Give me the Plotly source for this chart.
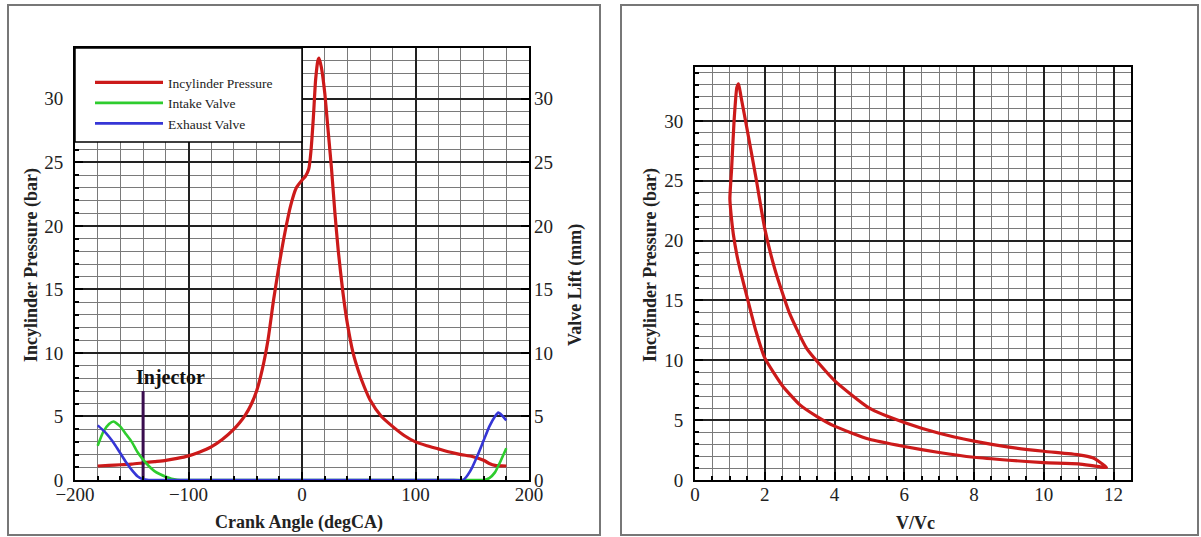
import plotly.graph_objects as go

# ---------------- data ----------------
crank_angle = [-180, -170, -160, -150, -140, -130, -120, -110, -100, -90, -80, -70, -60, -55,
               -50, -45, -40, -35, -30, -25, -20, -15, -10, -5, 0, 3, 6, 8, 10, 12, 14, 15,
               17, 20, 23, 26, 29, 32, 36, 40, 45, 50, 55, 60, 70, 80, 90, 100, 110, 120,
               130, 140, 150, 160, 165, 170, 180]
pressure = [1.1, 1.15, 1.2, 1.25, 1.35, 1.45, 1.55, 1.7, 1.9, 2.2, 2.6, 3.2, 4.0, 4.5,
            5.1, 5.9, 7.0, 8.7, 11.0, 14.2, 17.0, 19.5, 21.6, 23.0, 23.6, 23.9, 24.5, 26.0,
            28.5, 31.5, 33.0, 33.2, 32.5, 30.5, 27.5, 24.5, 21.0, 18.0, 14.8, 12.3, 10.0,
            8.5, 7.3, 6.3, 5.0, 4.2, 3.5, 3.0, 2.7, 2.45, 2.2, 2.0, 1.85, 1.55, 1.3, 1.15, 1.1]

intake_angle = [-180, -175, -170, -166, -160, -155, -150, -145, -140, -135, -130, -125,
                -120, -115, -110, -100, 0, 150, 160, 165, 170, 175, 180]
intake_lift = [2.7, 3.8, 4.4, 4.6, 4.2, 3.6, 3.0, 2.2, 1.6, 1.1, 0.7, 0.45,
               0.25, 0.1, 0.02, 0.0, 0.0, 0.0, 0.0, 0.15, 0.6, 1.5, 2.5]

exhaust_angle = [-180, -175, -170, -165, -160, -155, -150, -145, -140, -135, -120, 0,
                 130, 142, 146, 150, 155, 160, 165, 170, 173, 176, 180]
exhaust_lift = [4.3, 3.9, 3.4, 2.8, 2.1, 1.4, 0.8, 0.3, 0.05, 0.0, 0.0, 0.0,
                0.0, 0.0, 0.4, 1.0, 2.0, 3.1, 4.2, 5.0, 5.3, 5.1, 4.7]

injector_angle = [-140, -140]
injector_level = [0, 7]

# P-V loop: compression branch (BDC -> TDC) then combustion/expansion (TDC -> BDC)
vol_ratio = [11.8, 11.0, 10.0, 9.0, 8.0, 7.0, 6.0, 5.0, 4.0, 3.5, 3.0, 2.5, 2.0, 1.75,
             1.5, 1.3, 1.2, 1.1, 1.04, 1.0,
             1.05, 1.12, 1.2, 1.25, 1.32, 1.5, 1.75, 2.0, 2.3, 2.7, 3.2, 4.0, 5.0, 6.0,
             7.0, 8.0, 9.0, 10.0, 11.0, 11.4, 11.6, 11.8]
pv_pressure = [1.05, 1.35, 1.45, 1.65, 1.9, 2.3, 2.8, 3.4, 4.5, 5.3, 6.3, 7.9, 10.2, 12.4,
               15.2, 17.5, 18.8, 20.5, 22.0, 23.5,
               26.0, 30.0, 32.8, 33.1, 32.0, 29.2, 25.2, 21.0, 17.5, 14.0, 11.0, 8.3, 6.0,
               4.8, 3.9, 3.25, 2.75, 2.4, 2.1, 1.85, 1.5, 1.05]

left_xticks = [-200, -100, 0, 100, 200]
p_ticks = [0, 5, 10, 15, 20, 25, 30]
right_xticks = [0, 2, 4, 6, 8, 10, 12]

# ---------------- style ----------------
W, H = 1201, 537
SERIF = "Liberation Serif, Times New Roman, serif"
RED = "#cc1a1a"
GREEN = "#2ecc2e"
BLUE = "#3636d6"
INJ = "#3a0d4f"

def px(x):
    return x / W

def py(y):
    return 1 - y / H

fig = go.Figure()

fig.add_trace(go.Scatter(x=crank_angle, y=pressure, mode="lines", name="Incylinder Pressure",
                         line=dict(color=RED, width=3.2, shape="spline", smoothing=0.6),
                         xaxis="x", yaxis="y"))
fig.add_trace(go.Scatter(x=intake_angle, y=intake_lift, mode="lines", name="Intake Valve",
                         line=dict(color=GREEN, width=2.6, shape="spline", smoothing=0.5),
                         xaxis="x", yaxis="y2"))
fig.add_trace(go.Scatter(x=exhaust_angle, y=exhaust_lift, mode="lines", name="Exhaust Valve",
                         line=dict(color=BLUE, width=2.6, shape="spline", smoothing=0.5),
                         xaxis="x", yaxis="y2"))
fig.add_trace(go.Scatter(x=injector_angle, y=injector_level, mode="lines", showlegend=False,
                         line=dict(color=INJ, width=3), xaxis="x", yaxis="y"))
fig.add_trace(go.Scatter(x=vol_ratio, y=pv_pressure, mode="lines", showlegend=False,
                         line=dict(color=RED, width=3.2, shape="spline", smoothing=0.5),
                         xaxis="x3", yaxis="y3"))

tickfont = dict(family=SERIF, size=19, color="#222")
MAJ = "#222222"
MIN = "#7a7a7a"

common = dict(showline=True, linecolor="black", linewidth=2, mirror=True,
              ticks="inside", ticklen=8, tickcolor="black", tickwidth=1.5,
              tickfont=tickfont, zeroline=False, showgrid=True, automargin=False,
              gridcolor=MAJ, gridwidth=1.5)

L_dom_x = [px(75), px(529)]
L_dom_y = [py(480), py(48)]
R_dom_x = [px(695), px(1131)]
R_dom_y = [py(480), py(67)]

fig.update_layout(
    width=W, height=H,
    margin=dict(l=0, r=0, t=0, b=0, autoexpand=False),
    paper_bgcolor="white", plot_bgcolor="white",
    showlegend=True,
    legend=dict(x=px(90), y=py(67), xanchor="left", yanchor="top",
                bgcolor="rgba(0,0,0,0)", borderwidth=0,
                font=dict(family=SERIF, size=13.5, color="#222"),
                itemwidth=68, tracegroupgap=0),
    xaxis=dict(domain=L_dom_x, range=[-200, 200], tickvals=left_xticks,
               anchor="y", ticklabelstandoff=-4,
               minor=dict(dtick=20, tick0=0, showgrid=True, gridcolor=MIN, gridwidth=1,
                          ticks="inside", ticklen=4, tickcolor="black"),
               **common),
    yaxis=dict(domain=L_dom_y, range=[0, 34], tickvals=p_ticks, anchor="x",
               ticklabelstandoff=6,
               minor=dict(dtick=1, tick0=0, showgrid=True, gridcolor=MIN, gridwidth=1,
                          ticks="inside", ticklen=4, tickcolor="black"),
               **common),
    yaxis2=dict(domain=L_dom_y, range=[0, 34], tickvals=p_ticks, overlaying="y",
                side="right", anchor="x", showgrid=False, showline=False, automargin=False,
                ticks="inside", ticklen=8, tickcolor="black", tickwidth=1.5,
                tickfont=tickfont, zeroline=False, ticklabelstandoff=4),
    xaxis3=dict(domain=R_dom_x, range=[0, 12.5], tickvals=right_xticks, anchor="y3",
                ticklabelstandoff=-4,
                minor=dict(dtick=0.5, tick0=0, showgrid=True, gridcolor=MIN, gridwidth=1,
                           ticks="inside", ticklen=4, tickcolor="black"),
                **common),
    yaxis3=dict(domain=R_dom_y, range=[0, 34.5], tickvals=p_ticks, anchor="x3",
                ticklabelstandoff=6,
                minor=dict(dtick=1, tick0=0, showgrid=True, gridcolor=MIN, gridwidth=1,
                           ticks="inside", ticklen=4, tickcolor="black"),
                **common),
)

shapes = [
    # legend box
    dict(type="rect", xref="x", yref="y", x0=-200, x1=0, y0=26.6, y1=34,
         fillcolor="white", line=dict(color="black", width=1.5), layer="above"),
    # panel borders
    dict(type="rect", xref="paper", yref="paper", x0=px(8), x1=px(600), y0=py(535), y1=py(5),
         line=dict(color="#777777", width=2), fillcolor="rgba(0,0,0,0)", layer="below"),
    dict(type="rect", xref="paper", yref="paper", x0=px(621), x1=px(1198), y0=py(535), y1=py(5),
         line=dict(color="#777777", width=2), fillcolor="rgba(0,0,0,0)", layer="below"),
]
fig.update_layout(shapes=shapes)

title_font = dict(family=SERIF, size=18, color="#222")
ann_common = dict(xref="paper", yref="paper", showarrow=False, font=title_font,
                  xanchor="center", yanchor="middle")
annotations = [
    dict(text="<b>Injector</b>", x=-116, y=7.0, xref="x", yref="y", xanchor="center",
         yanchor="bottom", showarrow=False, font=dict(family=SERIF, size=20, color="#111")),
    dict(text="<b>Incylinder Pressure (bar)</b>", x=px(31), y=py(265), textangle=-90,
         **ann_common),
    dict(text="<b>Valve Lift (mm)</b>", x=px(575), y=py(285), textangle=-90, **ann_common),
    dict(text="<b>Crank Angle (degCA)</b>", x=px(299), y=py(522), **ann_common),
    dict(text="<b>Incylinder Pressure (bar)</b>", x=px(650), y=py(265), textangle=-90,
         **ann_common),
    dict(text="<b>V/Vc</b>", x=px(915), y=py(523), **ann_common),
]
fig.update_layout(annotations=annotations)

fig.write_html("out.html", config={"displayModeBar": False},
               post_script="document.body.style.margin='0';document.body.style.padding='0';"
                           "document.documentElement.style.overflow='hidden';")
